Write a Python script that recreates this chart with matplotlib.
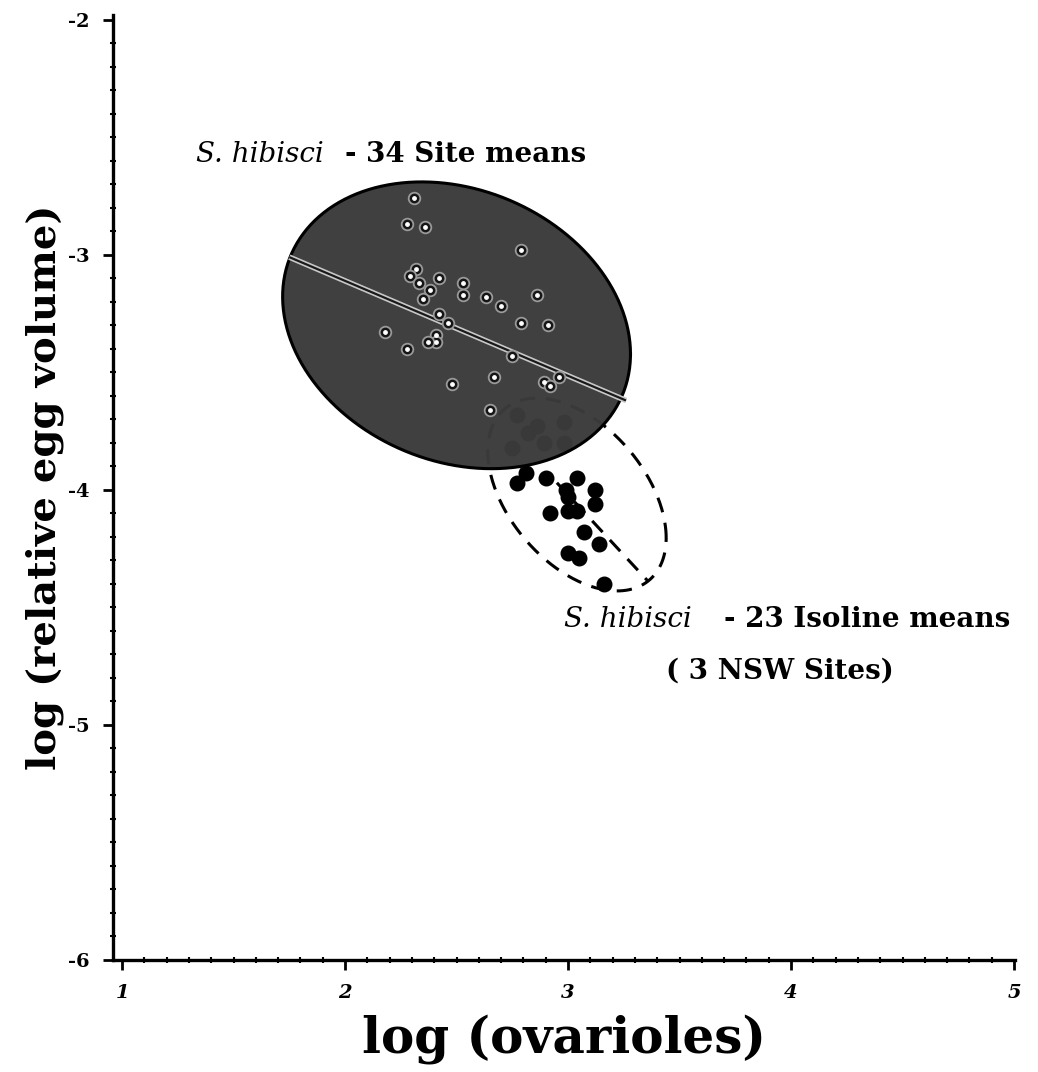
import numpy as np
import matplotlib
matplotlib.use("Agg")
import matplotlib.pyplot as plt
from matplotlib.ticker import MultipleLocator, FixedLocator

# S. hibisci - 34 site means (log ovarioles, log relative egg volume)
site_x = [2.31, 2.28, 2.36, 2.79, 2.32, 2.29, 2.33, 2.38, 2.42, 2.53, 2.53,
          2.63, 2.70, 2.86, 2.35, 2.42, 2.46, 2.41, 2.41, 2.37, 2.18, 2.28,
          2.79, 2.91, 2.75, 2.67, 2.48, 2.89, 2.92, 2.96, 2.65]
site_y = [-2.76, -2.87, -2.88, -2.98, -3.06, -3.09, -3.12, -3.15, -3.10, -3.12,
          -3.17, -3.18, -3.22, -3.17, -3.19, -3.25, -3.29, -3.34, -3.37, -3.37,
          -3.33, -3.40, -3.29, -3.30, -3.43, -3.52, -3.55, -3.54, -3.56, -3.52,
          -3.66]

# S. hibisci - 23 isoline means (3 NSW sites)
iso_x = [2.81, 2.77, 2.90, 3.04, 2.99, 3.00, 3.12, 3.12, 2.92, 3.00, 3.04,
         3.07, 3.14, 3.00, 3.05, 3.16,
         2.77, 2.86, 2.98, 2.89, 2.98, 2.75, 2.82]
iso_y = [-3.93, -3.97, -3.95, -3.95, -4.00, -4.03, -4.00, -4.06, -4.10, -4.09,
         -4.09, -4.18, -4.23, -4.27, -4.29, -4.40,
         -3.68, -3.73, -3.71, -3.80, -3.80, -3.82, -3.76]

# ellipse summaries: centre, spread and correlation
site_ell = dict(cx=2.50, cy=-3.30, sx=0.78, sy=0.61, rho=-0.20)
iso_ell = dict(cx=3.04, cy=-4.02, sx=0.40, sy=0.41, rho=-0.45)

# fitted lines
site_fit_x = [1.75, 3.26]
site_fit_y = [-3.01, -3.62]
iso_fit_x = [2.95, 3.36]
iso_fit_y = [-3.97, -4.39]

x_ticks = [1, 2, 3, 4, 5]
y_ticks = [-2, -3, -4, -5, -6]


def ellipse_outline(cx, cy, sx, sy, rho, n=300):
    t = np.linspace(0, 2 * np.pi, n)
    ex = cx + sx * np.cos(t)
    ey = cy + sy * (rho * np.cos(t) + np.sqrt(1 - rho ** 2) * np.sin(t))
    return ex, ey


fig = plt.figure(figsize=(10.38, 10.72), dpi=100)
ax = fig.add_axes([0.109, 0.1045, 0.869, 0.8815])

serif = ["DejaVu Serif"]

# dashed ellipse + isoline points (underneath)
ex, ey = ellipse_outline(**iso_ell)
ax.plot(ex, ey, color="black", lw=2.2, ls=(0, (5, 3.5)), zorder=2)
ax.plot(iso_fit_x, iso_fit_y, color="black", lw=2.2, ls=(0, (5, 3.5)), zorder=2)
ax.scatter(iso_x, iso_y, s=110, color="black", zorder=3)

# dark ellipse of site means
ex, ey = ellipse_outline(**site_ell)
ax.fill(ex, ey, facecolor=(0.23, 0.23, 0.23, 0.975), edgecolor="none", zorder=4)
ax.plot(ex, ey, color="black", lw=2.2, zorder=5)
ax.plot(site_fit_x, site_fit_y, color="#c8c8c8", lw=4, zorder=5,
        solid_capstyle="butt")
ax.plot(site_fit_x, site_fit_y, color="#1a1a1a", lw=1.6, zorder=5,
        solid_capstyle="butt")
ax.scatter(site_x, site_y, s=70, facecolor="#151515", edgecolor="#9a9a9a",
           linewidth=1.3, zorder=6)
ax.scatter(site_x, site_y, s=6, color="white", zorder=7)

# labels inside plot
ax.text(1.33, -2.575, "S. hibisci", fontsize=20, style="italic",
        family=serif, va="center", ha="left")
ax.text(2.0, -2.575, "- 34 Site means", fontsize=20, weight="bold",
        family=serif, va="center", ha="left")
ax.text(2.98, -4.55, "S. hibisci", fontsize=20, style="italic",
        family=serif, va="center", ha="left")
ax.text(3.70, -4.55, "- 23 Isoline means", fontsize=20, weight="bold",
        family=serif, va="center", ha="left")
ax.text(3.95, -4.77, "( 3 NSW Sites)", fontsize=20, weight="bold",
        family=serif, va="center", ha="center")

ax.set_xlim(0.96, 5.005)
ax.set_ylim(-6.0, -1.98)

for side in ("top", "right"):
    ax.spines[side].set_visible(False)
for side in ("left", "bottom"):
    ax.spines[side].set_linewidth(2.4)

ax.xaxis.set_major_locator(FixedLocator(x_ticks))
ax.yaxis.set_major_locator(FixedLocator(y_ticks))
ax.xaxis.set_minor_locator(MultipleLocator(0.1))
ax.yaxis.set_minor_locator(MultipleLocator(0.1))
ax.tick_params(which="major", direction="out", length=7, width=2, pad=10)
ax.tick_params(which="minor", direction="inout", length=4, width=1.5)
ax.set_xticklabels([str(v) for v in x_ticks], fontsize=14, weight="bold",
                   style="italic", family=serif)
ax.set_yticklabels([str(v) for v in y_ticks], fontsize=14, weight="bold",
                   family=serif)

ax.set_xlabel("log (ovarioles)", fontsize=36, weight="bold", family=serif,
              labelpad=9)
ax.set_ylabel("log (relative egg volume)", fontsize=29, weight="bold",
              family=serif)
ax.yaxis.set_label_coords(-0.055, 0.50)

fig.savefig("out.png", dpi=100)
